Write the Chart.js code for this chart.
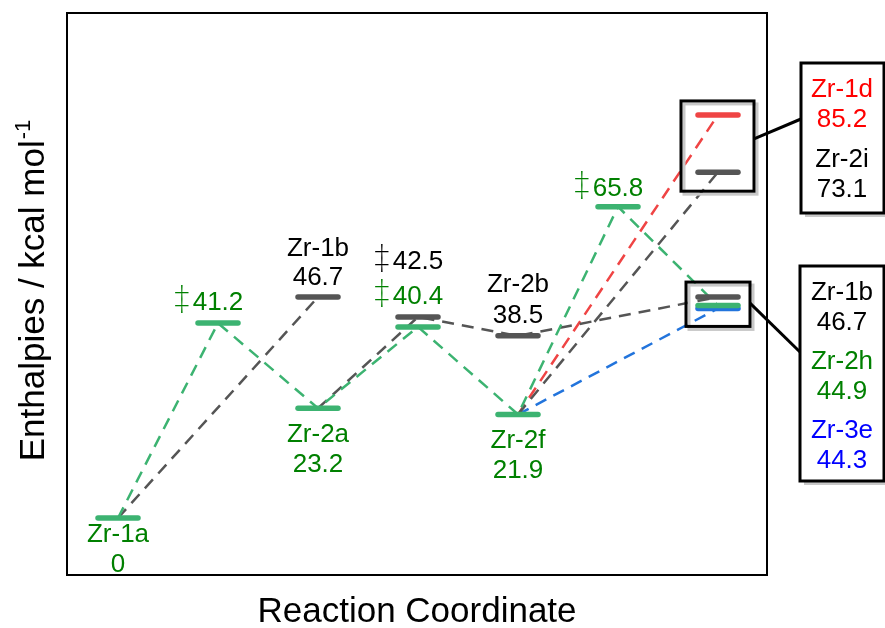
<!DOCTYPE html>
<html>
<head>
<meta charset="utf-8">
<script src="https://cdn.jsdelivr.net/npm/chart.js@4.4.1/dist/chart.umd.min.js"></script>
<style>
  html, body { margin: 0; padding: 0; background: #fff; }
</style>
</head>
<body>
<canvas id="myChart" width="885" height="628"></canvas>
<script>
"use strict";

// States along the reaction coordinate
const stateNames = ["Zr-1a", "TS", "Zr-1b", "Zr-2a", "TS", "TS", "Zr-2b", "Zr-2f", "TS", "Zr-1d", "Zr-2i", "Zr-1b", "Zr-2h", "Zr-3e"];
const stateSteps = [1, 2, 3, 3, 4, 4, 5, 5, 6, 7, 7, 7, 7, 7];
const stateValues = [0, 41.2, 46.7, 23.2, 42.5, 40.4, 38.5, 21.9, 65.8, 85.2, 73.1, 46.7, 44.9, 44.3];
const stateFamily = ["green", "green", "gray", "green", "gray", "green", "gray", "green", "green", "red", "gray", "gray", "green", "blue"];

// Pathways, as indexes into the state arrays
const greenPath = [0, 1, 3, 5, 7, 8, 12];
const grayPaths = [[0, 2], [3, 4, 6, 11], [7, 10]];
const redPath = [7, 9];
const bluePath = [7, 13];

// States listed in the callout boxes on the right
const calloutTop = [9, 10];
const calloutBottom = [11, 12, 13];

// Colours
const barColors = { green: "#3cb371", gray: "#555555", red: "#ef4444", blue: "#2274dc" };
const textColors = { green: "#008000", gray: "#000000", red: "#ff0000", blue: "#0000ff" };

// Where the labels sit, pixel offsets from the bar (name line / value line / TS value)
const labelLayout = {
  0: { name: 17, value: 47 },
  1: { ts: -20 },
  2: { name: -48, value: -19 },
  3: { name: 27, value: 57 },
  4: { ts: -55 },
  5: { ts: -30 },
  6: { name: -51, value: -20 },
  7: { name: 26, value: 56 },
  8: { ts: -18 },
};

const FONT = "'Liberation Sans', Arial, sans-serif";
const fmt = (v) => (v === 0 ? "0" : v.toFixed(1));

// Datasets: level bars first (drawn on top), then dashed connectors
const datasets = [];
stateValues.forEach((v, i) => {
  datasets.push({
    data: [
      { x: stateSteps[i] - 0.2, y: v },
      { x: stateSteps[i] + 0.2, y: v },
    ],
    borderColor: barColors[stateFamily[i]],
    borderWidth: 5.5,
    borderCapStyle: "round",
    pointRadius: 0,
    order: 0,
  });
});

const addPath = function (path, family) {
  datasets.push({
    data: path.map((i) => ({ x: stateSteps[i], y: stateValues[i] })),
    borderColor: barColors[family],
    borderWidth: 2.5,
    borderDash: [12, 8],
    pointRadius: 0,
    order: 1,
  });
};
addPath(greenPath, "green");
grayPaths.forEach((p) => addPath(p, "gray"));
addPath(redPath, "red");
addPath(bluePath, "blue");

// Labels, frame, axis titles and callouts
const annotate = {
  id: "annotate",
  afterDraw(chart) {
    const { ctx, chartArea: a } = chart;
    const xs = chart.scales.x;
    const ys = chart.scales.y;
    ctx.save();

    // frame
    ctx.strokeStyle = "#000";
    ctx.lineWidth = 2;
    ctx.strokeRect(a.left, a.top, a.right - a.left, a.bottom - a.top);

    // state labels
    ctx.textAlign = "center";
    ctx.textBaseline = "middle";
    Object.keys(labelLayout).forEach((k) => {
      const i = Number(k);
      const L = labelLayout[i];
      const px = xs.getPixelForValue(stateSteps[i]);
      const py = ys.getPixelForValue(stateValues[i]);
      ctx.fillStyle = textColors[stateFamily[i]];
      ctx.font = "26px " + FONT;
      if (L.ts !== undefined) {
        const txt = fmt(stateValues[i]);
        ctx.textAlign = "center";
        ctx.fillText(txt, px, py + L.ts);
        const w = ctx.measureText(txt).width;
        ctx.font = "200 36px 'Noto Sans', 'DejaVu Sans', sans-serif";
        ctx.textAlign = "right";
        ctx.fillText("\u2021", px - w / 2 - 2, py + L.ts);
        ctx.textAlign = "center";
      } else {
        ctx.fillText(stateNames[i], px, py + L.name);
        ctx.fillText(fmt(stateValues[i]), px, py + L.value);
      }
    });

    // axis titles
    ctx.fillStyle = "#000";
    ctx.font = "35px " + FONT;
    ctx.textAlign = "center";
    ctx.textBaseline = "alphabetic";
    ctx.fillText("Reaction Coordinate", (a.left + a.right) / 2, 622);

    ctx.save();
    ctx.translate(44, 291);
    ctx.rotate(-Math.PI / 2);
    const main = "Enthalpies / kcal mol";
    ctx.font = "35px " + FONT;
    const mw = ctx.measureText(main).width;
    ctx.font = "22px " + FONT;
    const sw = ctx.measureText("-1").width;
    ctx.textAlign = "left";
    ctx.font = "35px " + FONT;
    ctx.fillText(main, -(mw + sw) / 2, 0);
    ctx.font = "22px " + FONT;
    ctx.fillText("-1", -(mw + sw) / 2 + mw + 1, -14);
    ctx.restore();

    // callouts
    const xr = xs.getPixelForValue(7);
    const drawSmall = function (l, t, r, b) {
      ctx.lineWidth = 3;
      ctx.strokeStyle = "#c8c8c8";
      ctx.strokeRect(l + 3, t + 3, r - l, b - t);
      ctx.strokeStyle = "#000";
      ctx.strokeRect(l, t, r - l, b - t);
    };
    const drawBig = function (l, t, r, b) {
      ctx.fillStyle = "#c8c8c8";
      ctx.fillRect(l + 4, t + 4, r - l, b - t);
      ctx.fillStyle = "#fff";
      ctx.fillRect(l, t, r - l, b - t);
      ctx.lineWidth = 3;
      ctx.strokeStyle = "#000";
      ctx.strokeRect(l, t, r - l, b - t);
    };
    const connect = function (x1, y1, x2, y2) {
      ctx.lineWidth = 3;
      ctx.strokeStyle = "#000";
      ctx.beginPath();
      ctx.moveTo(x1, y1);
      ctx.lineTo(x2, y2);
      ctx.stroke();
    };
    const listText = function (ids, cx, top, step) {
      ctx.font = "26px " + FONT;
      ctx.textAlign = "center";
      ctx.textBaseline = "middle";
      let yy = top;
      ids.forEach((i) => {
        ctx.fillStyle = textColors[stateFamily[i]];
        ctx.fillText(stateNames[i], cx, yy);
        ctx.fillText(fmt(stateValues[i]), cx, yy + step.pair);
        yy += step.next;
      });
    };

    // upper callout
    const t1 = ys.getPixelForValue(stateValues[9]) - 14;
    const b1 = ys.getPixelForValue(stateValues[10]) + 19;
    drawSmall(xr - 37, t1, xr + 36, b1);
    connect(xr + 36, t1 + 38, a.right + 34, 119);
    drawBig(a.right + 34, 63, a.right + 117, 213);
    listText(calloutTop, a.right + 75, 90, { pair: 30, next: 70 });

    // lower callout
    const t2 = ys.getPixelForValue(stateValues[11]) - 15;
    const b2 = ys.getPixelForValue(stateValues[13]) + 18;
    drawSmall(xr - 32, t2, xr + 32, b2);
    connect(xr + 32, t2 + 21, a.right + 33, 352);
    drawBig(a.right + 33, 266, a.right + 117, 481);
    listText(calloutBottom, a.right + 75, 293, { pair: 30, next: 69 });

    ctx.restore();
  },
};

const ctx = document.getElementById("myChart").getContext("2d");

const myChart = new Chart(ctx, {
  type: "line",
  data: { datasets: datasets },
  options: {
    responsive: false,
    animation: false,
    devicePixelRatio: 1,
    layout: {
      padding: { left: 67, right: 118, top: 13, bottom: 53 },
    },
    scales: {
      x: { type: "linear", min: 0.49, max: 7.49, display: false },
      y: { type: "linear", min: -12.05, max: 106.75, display: false },
    },
    elements: { line: { tension: 0, fill: false } },
    plugins: {
      legend: { display: false },
      tooltip: { enabled: false },
    },
  },
  plugins: [annotate],
});
</script>
</body>
</html>
